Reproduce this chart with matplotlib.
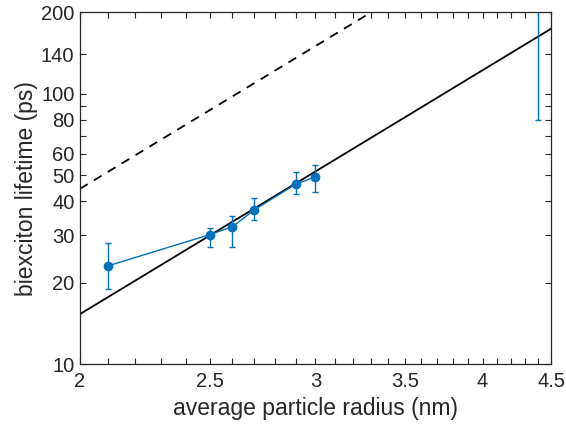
import numpy as np
import matplotlib
matplotlib.use('Agg')
import matplotlib.pyplot as plt
from matplotlib.ticker import FixedLocator, FixedFormatter, NullLocator

plt.rcParams['font.family'] = ['Liberation Sans', 'DejaVu Sans']

# measured points (last one is plotted on its own, no connecting line)
radius = [2.1, 2.5, 2.6, 2.7, 2.9, 3.0, 4.4]
lifetime = [23.1, 30.1, 32.2, 37.2, 46.3, 49.3, 260.0]
err_low = [4.1, 3.0, 5.1, 3.0, 3.9, 5.9, 180.0]
err_high = [4.9, 1.9, 3.0, 4.0, 5.0, 5.1, 100.0]

# r^3 guide lines (end points)
fit_x = [2.0, 4.5]
fit_solid = [15.3, 174.0]
fit_dashed = [44.5, 507.0]

xticks = [2.0, 2.1, 2.2, 2.3, 2.4, 2.5, 2.6, 2.7, 2.8, 2.9, 3.0, 3.1, 3.2, 3.3,
          3.4, 3.5, 3.6, 3.7, 3.8, 3.9, 4.0, 4.1, 4.2, 4.3, 4.4, 4.5]
xlabels = {2.0: '2', 2.5: '2.5', 3.0: '3', 3.5: '3.5', 4.0: '4', 4.5: '4.5'}
yticks = [10, 20, 30, 40, 50, 60, 70, 80, 90, 100, 140, 200]
ylabels = {10: '10', 20: '20', 30: '30', 40: '40', 50: '50', 60: '60',
           80: '80', 100: '100', 140: '140', 200: '200'}

blue = '#0072BD'
axcol = '#262626'

fig = plt.figure(figsize=(5.66, 4.29), dpi=100)
ax = fig.add_axes([0.1413, 0.1515, 0.8322, 0.8195])

ax.plot(fit_x, fit_solid, color='black', lw=1.3)
ax.plot(fit_x, fit_dashed, color='black', lw=1.3, ls=(0, (5, 4)))

n = 6
ax.errorbar(radius[:n], lifetime[:n], yerr=[err_low[:n], err_high[:n]],
            color=blue, lw=1.0, marker='o', ms=6, capsize=2.5, capthick=1.0,
            elinewidth=1.0)
ax.errorbar(radius[n:], lifetime[n:], yerr=[err_low[n:], err_high[n:]],
            color=blue, ls='none', marker='o', ms=6, capsize=2.5,
            capthick=1.0, elinewidth=1.0)

ax.set_xscale('log')
ax.set_yscale('log')
ax.set_xlim(2, 4.5)
ax.set_ylim(10, 200)

ax.xaxis.set_major_locator(FixedLocator(xticks))
ax.xaxis.set_major_formatter(FixedFormatter([xlabels.get(round(t, 1), '') for t in xticks]))
ax.xaxis.set_minor_locator(NullLocator())
ax.yaxis.set_major_locator(FixedLocator(yticks))
ax.yaxis.set_major_formatter(FixedFormatter([ylabels.get(t, '') for t in yticks]))
ax.yaxis.set_minor_locator(NullLocator())

ax.tick_params(which='both', direction='in', top=True, right=True,
               length=4, width=0.8, colors=axcol, labelsize=14.5, pad=4)
ax.tick_params(axis='x', pad=6)
for s in ax.spines.values():
    s.set_color(axcol)
    s.set_linewidth(0.9)

ax.set_xlabel('average particle radius (nm)', fontsize=16.5, color=axcol, labelpad=4)
ax.set_ylabel('biexciton lifetime (ps)', fontsize=16.5, color=axcol, labelpad=2)

fig.savefig('out.png', dpi=100)
